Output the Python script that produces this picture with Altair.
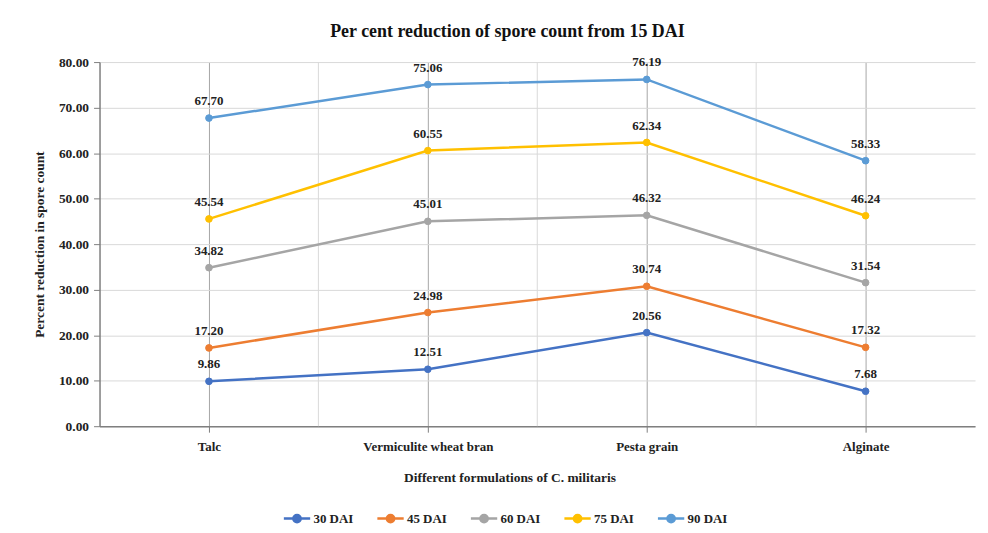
import altair as alt
import pandas as pd

categories = ["Talc", "Vermiculite wheat bran", "Pesta grain", "Alginate"]
series = ["30 DAI", "45 DAI", "60 DAI", "75 DAI", "90 DAI"]
dai30 = [9.86, 12.51, 20.56, 7.68]
dai45 = [17.20, 24.98, 30.74, 17.32]
dai60 = [34.82, 45.01, 46.32, 31.54]
dai75 = [45.54, 60.55, 62.34, 46.24]
dai90 = [67.70, 75.06, 76.19, 58.33]
colors = ["#4472C4", "#ED7D31", "#A5A5A5", "#FFC000", "#5B9BD5"]
y_ticks = [0, 10, 20, 30, 40, 50, 60, 70, 80]

FONT = "Liberation Serif"

rows = []
for s, vals in zip(series, [dai30, dai45, dai60, dai75, dai90]):
    for i, (c, v) in enumerate(zip(categories, vals)):
        rows.append({"series": s, "idx": i, "category": c, "value": v})
df = pd.DataFrame(rows)
bounds = pd.DataFrame({"b": [i + 0.5 for i in range(len(categories) - 1)]})

label_expr = "[" + ",".join("'" + c + "'" for c in categories) + "][datum.value]"
xscale = alt.Scale(domain=[-0.5, len(categories) - 0.5], nice=False, zero=False)
yscale = alt.Scale(domain=[0, 80], nice=False)
cscale = alt.Scale(domain=series, range=colors)

x_axis = alt.Axis(
    values=list(range(len(categories))), labelExpr=label_expr,
    title="Different formulations of C. militaris",
    grid=True, gridColor="#a6a6a6", gridWidth=1,
    domainColor="#7f7f7f", domainWidth=1.5, tickColor="#7f7f7f", tickSize=6,
    labelFont=FONT, labelFontSize=13, labelFontWeight="bold", labelColor="#222",
    labelPadding=8, titleFont=FONT, titleFontSize=13.5, titleFontWeight="bold",
    titleColor="#222", titlePadding=18, titleX=412,
)
y_axis = alt.Axis(
    values=y_ticks, format=".2f", title="Percent reduction in spore count",
    grid=True, gridColor="#d9d9d9", domainColor="#7f7f7f", domainWidth=1.5,
    tickColor="#7f7f7f", tickSize=6, labelFont=FONT, labelFontSize=13.5,
    labelFontWeight="bold", labelColor="#222", labelPadding=5,
    titleFont=FONT, titleFontSize=13.5, titleFontWeight="bold", titleColor="#222",
    titlePadding=12,
)
y_enc = alt.Y("value:Q", scale=yscale, axis=y_axis)

path = "M-1,0L1,0M0.28,0A0.28,0.28,0,1,1,-0.28,0A0.28,0.28,0,1,1,0.28,0Z"
leg = alt.Legend(
    title=None, orient="none", legendX=184, legendY=444, direction="horizontal",
    symbolType=path, symbolSize=700, symbolStrokeWidth=2.5,
    labelFont=FONT, labelFontSize=13, labelFontWeight="bold", labelColor="#222",
    columnPadding=18, labelOffset=2,
)

rules = alt.Chart(bounds).mark_rule(color="#d9d9d9", strokeWidth=1).encode(
    x=alt.X("b:Q", scale=xscale, axis=x_axis)
)
lines = alt.Chart(df).mark_line(strokeWidth=2.5).encode(
    x=alt.X("idx:Q", scale=xscale, axis=x_axis), y=y_enc,
    color=alt.Color("series:N", scale=cscale, legend=leg),
    order="idx:Q",
)
points = alt.Chart(df).mark_point(filled=False, size=45, strokeWidth=1, opacity=1).encode(
    x=alt.X("idx:Q", scale=xscale, axis=x_axis), y=y_enc,
    color=alt.Color("series:N", scale=cscale, legend=leg),
    fill=alt.Fill("series:N", scale=cscale, legend=leg),
)
labels = alt.Chart(df).mark_text(
    dy=-17, font=FONT, fontSize=13, fontWeight="bold", color="#222"
).encode(
    x=alt.X("idx:Q", scale=xscale, axis=x_axis), y=y_enc,
    text=alt.Text("value:Q", format=".2f"),
)

chart = alt.layer(rules, lines, points, labels).properties(
    width=880, height=366,
    title=alt.TitleParams(
        "Per cent reduction of spore count from 15 DAI", font=FONT, fontSize=18,
        fontWeight="bold", color="#111", offset=14, dx=-30, anchor="middle",
    ),
    autosize=alt.AutoSizeParams(type="none"),
    padding={"left": 92, "top": 53, "right": 5, "bottom": 104},
).configure_view(stroke=None)

chart.save("out.html", embed_options={"renderer": "svg", "actions": False})
